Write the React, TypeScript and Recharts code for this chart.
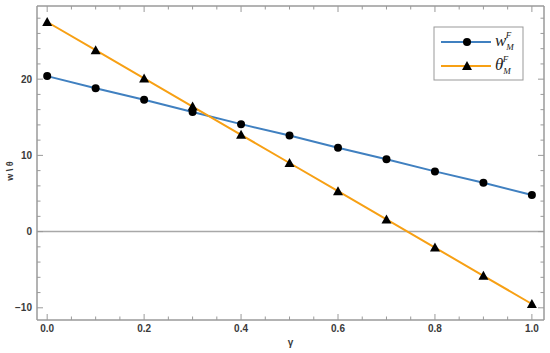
import { LineChart, Line, XAxis, YAxis, ReferenceLine } from 'recharts'

const gammas = [0, 0.1, 0.2, 0.3, 0.4, 0.5, 0.6, 0.7, 0.8, 0.9, 1.0]
const wMF = [20.4, 18.8, 17.3, 15.7, 14.1, 12.6, 11.0, 9.5, 7.9, 6.4, 4.8]
const thetaMF = [27.5, 23.8, 20.1, 16.4, 12.7, 9.0, 5.3, 1.6, -2.1, -5.8, -9.5]

const xTicks = [0, 0.05, 0.1, 0.15, 0.2, 0.25, 0.3, 0.35, 0.4, 0.45, 0.5, 0.55, 0.6, 0.65, 0.7, 0.75, 0.8, 0.85, 0.9, 0.95, 1.0]
const yTicks = [-10, -8, -6, -4, -2, 0, 2, 4, 6, 8, 10, 12, 14, 16, 18, 20, 22, 24, 26, 28]

const data = gammas.map((g, i) => ({ g, w: wMF[i], theta: thetaMF[i] }))

const W = 550
const H = 353
const M = { top: 5, right: 5, left: 7, bottom: 8 }
const Y_W = 30
const X_H = 25
// plot box edges
const L = M.left + Y_W
const R = W - M.right - 1
const T = M.top + 1
const B = H - M.bottom - X_H

const BLUE = '#4080c0'
const ORANGE = '#f7a014'
const FRAME = '#9a9a9a'
const TXT = '#3a3a3a'

const isMajorX = (v: number) => Math.abs(v * 5 - Math.round(v * 5)) < 1e-6
const isMajorY = (v: number) => v % 10 === 0

function XTick({ x, payload, side }: any) {
  const major = isMajorX(payload.value)
  const len = major ? 6 : 3.5
  const y0 = side === 'bottom' ? B : T
  const dir = side === 'bottom' ? -1 : 1
  return (
    <g>
      <line x1={x} x2={x} y1={y0} y2={y0 + dir * len} stroke={FRAME} strokeWidth={1} />
      {side === 'bottom' && major && (
        <text x={x} y={B + 12} textAnchor="middle" fontSize={10} fontWeight="bold" fill={TXT} fontFamily="Liberation Sans, Arial, sans-serif">
          {payload.value.toFixed(1)}
        </text>
      )}
    </g>
  )
}

function YTick({ y, payload, side }: any) {
  const v = payload.value
  const major = isMajorY(v)
  const len = major ? 6 : 3.5
  const x0 = side === 'left' ? L : R
  const dir = side === 'left' ? 1 : -1
  return (
    <g>
      <line x1={x0} x2={x0 + dir * len} y1={y} y2={y} stroke={FRAME} strokeWidth={1} />
      {side === 'left' && major && (
        <text x={L - 5} y={y + 3.5} textAnchor="end" fontSize={10} fontWeight="bold" fill={TXT} fontFamily="Liberation Sans, Arial, sans-serif">
          {v < 0 ? '\u2212' + Math.abs(v) : v}
        </text>
      )}
    </g>
  )
}

const Circle = ({ cx, cy }: any) => <circle cx={cx} cy={cy} r={4} fill="#000" />
const Tri = ({ cx, cy }: any) => (
  <path d={`M${cx},${cy - 5} L${cx + 5},${cy + 4} L${cx - 5},${cy + 4} Z`} fill="#000" />
)

function Legend() {
  const font = 'Liberation Serif, DejaVu Serif, serif'
  return (
    <svg width={92} height={56} style={{ position: 'absolute', left: 433, top: 26 }}>
      <rect x={1} y={1} width={89} height={53} fill="#fff" stroke="#999" strokeWidth={1} />
      <line x1={8} x2={58} y1={16} y2={16} stroke={BLUE} strokeWidth={2} />
      <circle cx={34} cy={16} r={4} fill="#000" />
      <text x={62} y={20} fontFamily={font} fontStyle="italic" fontSize={17} fill="#222">
        w
        <tspan fontSize={9} dy={4}>M</tspan>
        <tspan fontSize={9} dx={-8} dy={-12}>F</tspan>
      </text>
      <line x1={8} x2={58} y1={40} y2={40} stroke={ORANGE} strokeWidth={2} />
      <path d="M34,35 L39,44 L29,44 Z" fill="#000" />
      <text x={62} y={44} fontFamily={font} fontStyle="italic" fontSize={17} fill="#222">
        θ
        <tspan fontSize={9} dy={4}>M</tspan>
        <tspan fontSize={9} dx={-8} dy={-12}>F</tspan>
      </text>
    </svg>
  )
}

export default function App() {
  return (
    <div style={{ position: 'absolute', left: 0, top: 0, width: W, height: H, background: '#fff' }}>
      <LineChart width={W} height={H} data={data} margin={M}>
        <XAxis
          xAxisId="b"
          dataKey="g"
          type="number"
          domain={[-0.021, 1.025]}
          ticks={xTicks}
          allowDataOverflow
          height={X_H}
          axisLine={{ stroke: FRAME, strokeWidth: 1.5 }}
          tickLine={false}
          tick={<XTick side="bottom" />}
          interval={0}
        />
        <XAxis
          xAxisId="t"
          dataKey="g"
          type="number"
          orientation="top"
          domain={[-0.021, 1.025]}
          ticks={xTicks}
          allowDataOverflow
          height={1}
          axisLine={{ stroke: FRAME, strokeWidth: 1.5 }}
          tickLine={false}
          tick={<XTick side="top" />}
          interval={0}
        />
        <YAxis
          yAxisId="l"
          type="number"
          domain={[-11.6, 29.6]}
          ticks={yTicks}
          allowDataOverflow
          width={Y_W}
          axisLine={{ stroke: FRAME, strokeWidth: 1.5 }}
          tickLine={false}
          tick={<YTick side="left" />}
          interval={0}
        />
        <YAxis
          yAxisId="r"
          orientation="right"
          type="number"
          domain={[-11.6, 29.6]}
          ticks={yTicks}
          allowDataOverflow
          width={1}
          axisLine={{ stroke: FRAME, strokeWidth: 1.5 }}
          tickLine={false}
          tick={<YTick side="right" />}
          interval={0}
        />
        <ReferenceLine xAxisId="b" yAxisId="l" y={0} stroke="#a8a8a8" strokeWidth={1.5} />
        <Line xAxisId="b" yAxisId="l" dataKey="w" stroke={BLUE} strokeWidth={2} dot={<Circle />} isAnimationActive={false} />
        <Line xAxisId="b" yAxisId="l" dataKey="theta" stroke={ORANGE} strokeWidth={2} dot={<Tri />} isAnimationActive={false} />
        <text x={(L + R) / 2} y={B + 26} textAnchor="middle" fontSize={10} fontWeight="bold" fill={TXT} fontFamily="Liberation Sans, Arial, sans-serif">
          γ
        </text>
        <text
          x={13}
          y={(T + B) / 2 + 8}
          transform={`rotate(-90 13 ${(T + B) / 2 + 8})`}
          textAnchor="middle"
          fontSize={9}
          fontWeight="bold"
          fill={TXT}
          fontFamily="Liberation Sans, Arial, sans-serif"
        >
          w \ θ
        </text>
      </LineChart>
      <Legend />
    </div>
  )
}
